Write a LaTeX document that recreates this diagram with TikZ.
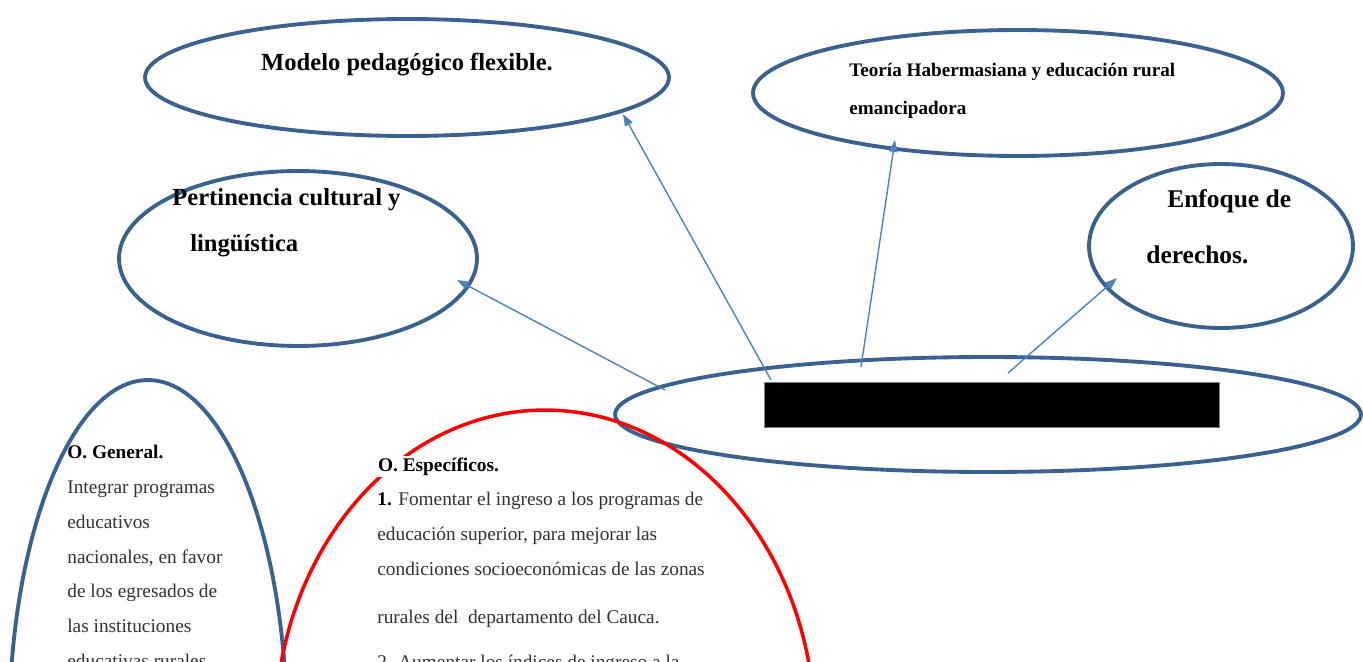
\documentclass[tikz,border=0pt]{standalone}
\usepackage{fontspec}
\setmainfont{Liberation Serif}
\usetikzlibrary{arrows.meta,calc,positioning,shapes.geometric}
\definecolor{Frame}{HTML}{3A6291}
\definecolor{Link}{HTML}{4F81BD}
\definecolor{Alert}{HTML}{FF0000}
\definecolor{Body}{HTML}{333333}
\tikzset{
  idea/.style={
    ellipse, draw=Frame, line width=2.2pt, inner sep=0pt
  },
  redidea/.style={
    ellipse, draw=Alert, line width=2pt, inner sep=0pt
  },
  heading/.style={text=black, inner sep=0pt, align=left},
  bodytext/.style={
    text=Body, inner sep=0pt, align=left
  },
  link/.style={-{Triangle[length=0.24cm,width=0.17cm]}, draw=Link, line width=0.8pt}
}

\begin{document}
\begin{tikzpicture}[x=0.02cm,y=-0.02cm]
    \useasboundingbox (0,0) rectangle (1363,662);
    % ellipses
    \node[idea,minimum width=10.48cm,minimum height=2.34cm] (modelo) at (407,77.5) {};
    \node[idea,minimum width=10.6cm,minimum height=2.52cm] (teoria) at (1018,93) {};
    \node[idea,minimum width=7.16cm,minimum height=3.5cm] (pertinencia) at (298,258.5) {};
    \node[idea,minimum width=5.28cm,minimum height=3.28cm] (enfoque) at (1221,246) {};
    \node[idea,minimum width=14.92cm,minimum height=2.3cm] (central) at (988,414.5) {};
    \node[fill=black,draw=gray,line width=0.4pt,inner sep=0pt,minimum width=9.1cm,minimum height=0.9cm] (barra) at (991.5,404.5) {};
    \node[idea,minimum width=5.56cm,minimum height=14.08cm] (general) at (148,732) {};
    \node[redidea,minimum width=10.8cm,minimum height=12.84cm] (especificos) at (545,731) {};
    % texts (multi-line nodes sit on their last baseline)
    \node[heading,font=\fontsize{14}{16}\selectfont\bfseries,anchor=base] (modelotxt) at (407,71) {Modelo pedagógico flexible.};
    \node[heading,font=\fontsize{10.9}{22}\selectfont\bfseries,anchor=base west] (teoriatxt) at (849,115) {Teoría Habermasiana y educación rural\\emancipadora};
    \node[heading,font=\fontsize{14}{26.7}\selectfont\bfseries,anchor=base west] (pertinenciatxt) at (172,252) {Pertinencia cultural y\\\hspace*{10.2pt}lingüística};
    \node[heading,font=\fontsize{14.5}{32.3}\selectfont\bfseries,anchor=base west] (enfoquetxt) at (1146,264) {\hspace*{11.9pt}Enfoque de\\derechos.};
    \node[bodytext,font=\fontsize{11}{19.7}\selectfont,anchor=base west] (generaltxt) at (67,667) {\textcolor{black}{\textbf{O. General.}}\\[0.7pt]Integrar programas\\educativos\\nacionales, en favor\\de los egresados de\\las instituciones\\educativas rurales};
    \node[heading,fill=white,inner sep=1pt,font=\fontsize{11}{12}\selectfont\bfseries,anchor=base west] (especificostit) at (376,471) {O. Específicos.};
    \node[bodytext,font=\fontsize{11}{19.8}\selectfont,anchor=base west] (especificostxt) at (377,668) {\textcolor{black}{\textbf{1.}} Fomentar el ingreso a los programas de\\educación superior, para mejorar las\\condiciones socioeconómicas de las zonas\\[7.4pt]rurales del\ \ departamento del Cauca.\\[5.7pt]2. Aumentar los índices de ingreso a la};
    % arrows
    \draw[link] ([shift={(-323,-24.5)}]central.center) -- ([shift={(159,21.5)}]pertinencia.center);
    \draw[link] ([shift={(-217,-34.5)}]central.center) -- ([shift={(216,36.5)}]modelo.center);
    \draw[link] ([shift={(-127,-47.5)}]central.center) -- ([shift={(-123,47)}]teoria.center);
    \draw[link] ([shift={(20,-41.5)}]central.center) -- ([shift={(-104,32)}]enfoque.center);
\end{tikzpicture}
\end{document}
